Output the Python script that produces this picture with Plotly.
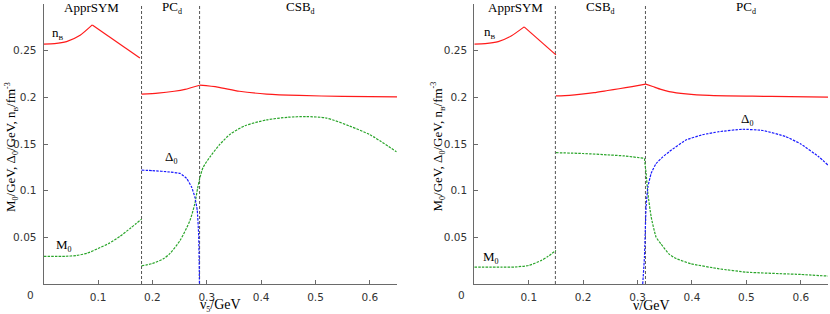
import plotly.graph_objects as go

# ---------------- data ----------------
# Left panel (x = nu_5 / GeV)
nB_L_x1 = [0.0, 0.02, 0.042, 0.067, 0.0894, 0.177]
nB_L_y1 = [0.257, 0.2575, 0.2597, 0.2665, 0.2776, 0.2421]
nB_L_x2 = [0.18, 0.21, 0.24, 0.26, 0.287]
nB_L_y2 = [0.2034, 0.2045, 0.2065, 0.2085, 0.213]
nB_L_x3 = [0.287, 0.32, 0.36, 0.41, 0.47, 0.55, 0.65]
nB_L_y3 = [0.213, 0.211, 0.2065, 0.2035, 0.202, 0.201, 0.2005]

M0_L_x1 = [0.0, 0.04, 0.06, 0.08, 0.1, 0.12, 0.14, 0.16, 0.18]
M0_L_y1 = [0.0296, 0.0297, 0.0305, 0.033, 0.038, 0.0435, 0.051, 0.06, 0.0695]
M0_L_x2 = [0.18, 0.2, 0.22, 0.232, 0.251, 0.269, 0.278, 0.283, 0.287, 0.293, 0.306,
           0.324, 0.343, 0.37, 0.41, 0.45, 0.483, 0.52, 0.563, 0.6, 0.649]
M0_L_y2 = [0.0195, 0.022, 0.027, 0.0325, 0.0468, 0.068, 0.086, 0.102, 0.113, 0.1245, 0.1363,
           0.1495, 0.1605, 0.1695, 0.1758, 0.1787, 0.1794, 0.1778, 0.1692, 0.160, 0.1417]

D0_L_x = [0.18, 0.2, 0.232, 0.251, 0.263, 0.272, 0.278, 0.2825, 0.285, 0.286, 0.2865]
D0_L_y = [0.122, 0.1215, 0.120, 0.1185, 0.113, 0.104, 0.0933, 0.079, 0.054, 0.025, 0.0]

bounds_L = [0.18, 0.2868]

# Right panel (x = nu / GeV)
nB_R_x1 = [0.0, 0.02, 0.044, 0.0685, 0.0916, 0.15]
nB_R_y1 = [0.257, 0.2575, 0.2597, 0.266, 0.2755, 0.2455]
nB_R_x2 = [0.15, 0.175, 0.197, 0.22, 0.245, 0.266, 0.29, 0.315]
nB_R_y2 = [0.2015, 0.2022, 0.2034, 0.205, 0.2073, 0.2092, 0.2115, 0.2142]
nB_R_x3 = [0.315, 0.328, 0.343, 0.358, 0.389, 0.432, 0.511, 0.58, 0.65]
nB_R_y3 = [0.2142, 0.2116, 0.2085, 0.2062, 0.2037, 0.202, 0.2012, 0.2007, 0.2002]

M0_R_x1 = [0.0, 0.05, 0.0745, 0.1, 0.1234, 0.1356, 0.15]
M0_R_y1 = [0.018, 0.018, 0.0182, 0.0199, 0.0253, 0.0296, 0.036]
M0_R_x2 = [0.15, 0.2, 0.25, 0.276, 0.3127, 0.3157, 0.319, 0.325, 0.334, 0.343, 0.358,
           0.37, 0.398, 0.45, 0.5, 0.6, 0.65]
M0_R_y2 = [0.1407, 0.1398, 0.1382, 0.1372, 0.1346, 0.1185, 0.097, 0.072, 0.0503, 0.043, 0.032,
           0.0275, 0.0217, 0.0163, 0.0127, 0.0102, 0.0085]

D0_R_x = [0.3095, 0.3127, 0.3157, 0.319, 0.325, 0.334, 0.346, 0.358, 0.389, 0.42, 0.45,
          0.4927, 0.53, 0.572, 0.6, 0.633, 0.65]
D0_R_y = [0.0, 0.029, 0.0826, 0.104, 0.1185, 0.129, 0.136, 0.1417, 0.1543, 0.160, 0.1632,
          0.1658, 0.1645, 0.158, 0.150, 0.1363, 0.1274]

bounds_R = [0.149, 0.3145]

yticks = [0.05, 0.1, 0.15, 0.2, 0.25, 0.3]
ytick_text = ["0.05", "0.1", "0.15", "0.2", "0.25", "0.3"]
xticks = [0.1, 0.2, 0.3, 0.4, 0.5, 0.6]
xtick_text = ["0.1", "0.2", "0.3", "0.4", "0.5", "0.6"]

# ---------------- styles ----------------
RED = "#ff1a1a"
GREEN = "#2aa52a"
BLUE = "#1a1aff"
DASH = "2.5px,1.2px"
SERIF = "Liberation Serif, Times New Roman, serif"
SANS = "DejaVu Sans, sans-serif"

fig = go.Figure()

def line(x, y, color, xa, ya, dash=None, width=1.2, shape="spline", smooth=0.6):
    ln = dict(color=color, width=width, dash=dash, shape=shape)
    if shape == "spline":
        ln["smoothing"] = smooth
    fig.add_trace(go.Scatter(x=x, y=y, mode="lines", xaxis=xa, yaxis=ya, line=ln,
                             hoverinfo="skip", showlegend=False))

# left panel
line(nB_L_x1[:5], nB_L_y1[:5], RED, "x", "y")
line(nB_L_x1[4:], nB_L_y1[4:], RED, "x", "y", shape="linear")
line(nB_L_x2, nB_L_y2, RED, "x", "y")
line(nB_L_x3, nB_L_y3, RED, "x", "y")
line(M0_L_x1, M0_L_y1, GREEN, "x", "y", DASH)
line(M0_L_x2, M0_L_y2, GREEN, "x", "y", DASH, smooth=0.7)
line(D0_L_x, D0_L_y, BLUE, "x", "y", DASH, smooth=0.4)

# right panel
line(nB_R_x1[:5], nB_R_y1[:5], RED, "x2", "y2")
line(nB_R_x1[4:], nB_R_y1[4:], RED, "x2", "y2", shape="linear")
line(nB_R_x2, nB_R_y2, RED, "x2", "y2")
line(nB_R_x3, nB_R_y3, RED, "x2", "y2")
line(M0_R_x1, M0_R_y1, GREEN, "x2", "y2", DASH)
line(M0_R_x2[:5], M0_R_y2[:5], GREEN, "x2", "y2", DASH)
line(M0_R_x2[4:], M0_R_y2[4:], GREEN, "x2", "y2", DASH, smooth=0.4)
line(D0_R_x, D0_R_y, BLUE, "x2", "y2", DASH, smooth=0.4)

shapes = []
for b in bounds_L:
    shapes.append(dict(type="line", xref="x", yref="y", x0=b, x1=b, y0=0, y1=0.3,
                       line=dict(color="#555555", width=1, dash="3px,2px"), layer="below"))
for b in bounds_R:
    shapes.append(dict(type="line", xref="x2", yref="y2", x0=b, x1=b, y0=0, y1=0.3,
                       line=dict(color="#555555", width=1, dash="3px,2px"), layer="below"))

W, H = 830, 314
MT, MB = 4, 30

def ax_common():
    return dict(showgrid=False, zeroline=False, showline=True, linecolor="#6a6a6a",
                linewidth=1.2, ticks="inside", ticklen=4, tickcolor="#6a6a6a",
                tickfont=dict(family=SANS, size=10.5, color="#333333"))

xa = ax_common(); xa.update(domain=[43.7 / W, 397 / W], range=[0, 0.65], anchor="y",
                            tickvals=xticks, ticktext=xtick_text, ticklabelstandoff=3)
xa2 = ax_common(); xa2.update(domain=[474.3 / W, 828 / W], range=[0, 0.65], anchor="y2",
                              tickvals=xticks, ticktext=xtick_text, ticklabelstandoff=3)
ya = ax_common(); ya.update(domain=[0, 1], range=[0, 0.3], anchor="x",
                            tickvals=yticks, ticktext=ytick_text, ticklabelstandoff=4)
ya2 = ax_common(); ya2.update(domain=[0, 1], range=[0, 0.3], anchor="x2",
                              tickvals=yticks, ticktext=ytick_text, ticklabelstandoff=4)

def py(pix):
    return (H - MB - pix) / (H - MT - MB)

def sub(s, size=8):
    return f"<sub><span style='font-size:{size}px'>{s}</span></sub>"

ann = []
def txt(text, x, y, xref, yref, size=13, xanchor="center", yanchor="middle", angle=0, font=SERIF, color="black"):
    ann.append(dict(text=text, x=x, y=y, xref=xref, yref=yref, showarrow=False,
                    xanchor=xanchor, yanchor=yanchor, textangle=angle,
                    font=dict(family=font, size=size, color=color)))

# region labels
txt("ApprSYM", 0.088, 0.2964, "x", "y")
txt("PC" + sub("d"), 0.2368, 0.2964, "x", "y")
txt("CSB" + sub("d"), 0.4726, 0.2964, "x", "y")
txt("ApprSYM", 0.0755, 0.2964, "x2", "y2")
txt("CSB" + sub("d"), 0.2311, 0.2964, "x2", "y2")
txt("PC" + sub("d"), 0.4995, 0.2964, "x2", "y2")

# curve labels
txt("n" + sub("B", 7), 0.0116, 0.2688, "x", "y", xanchor="left")
txt("M" + sub("0"), 0.019, 0.0414, "x", "y", xanchor="left")
txt("Δ" + sub("0"), 0.219, 0.1355, "x", "y", xanchor="left")
txt("n" + sub("B", 7), 0.0136, 0.269, "x2", "y2", xanchor="left")
txt("M" + sub("0"), 0.0123, 0.028, "x2", "y2", xanchor="left")
txt("Δ" + sub("0"), 0.4866, 0.1763, "x2", "y2", xanchor="left")

# origin labels
txt("0", 30.8 / W, py(295), "paper", "paper", size=10.5, font=SANS, color="#333333")
txt("0", 461 / W, py(295), "paper", "paper", size=10.5, font=SANS, color="#333333")

# axis titles
ytitle = ("M" + sub("0") + "/GeV, Δ" + sub("0") + "/GeV, n" + sub("B", 7)
          + "/fm<sup><span style='font-size:8px'>-3</span></sup>")
txt(ytitle, 11 / W, py(147), "paper", "paper", angle=-90)
txt(ytitle, 437.5 / W, py(147), "paper", "paper", angle=-90)
txt("ν" + sub("5", 8) + "/GeV", 220 / W, py(305), "paper", "paper", size=14)
txt("ν/GeV", 651 / W, py(305.5), "paper", "paper", size=14)

fig.update_layout(width=W, height=H, margin=dict(l=0, r=0, t=MT, b=MB),
                  paper_bgcolor="white", plot_bgcolor="white", showlegend=False,
                  xaxis=xa, xaxis2=xa2, yaxis=ya, yaxis2=ya2,
                  shapes=shapes, annotations=ann)

fig.write_html("out.html", config={"displayModeBar": False},
               post_script="document.body.style.margin='0px';document.body.style.overflow='hidden';")
